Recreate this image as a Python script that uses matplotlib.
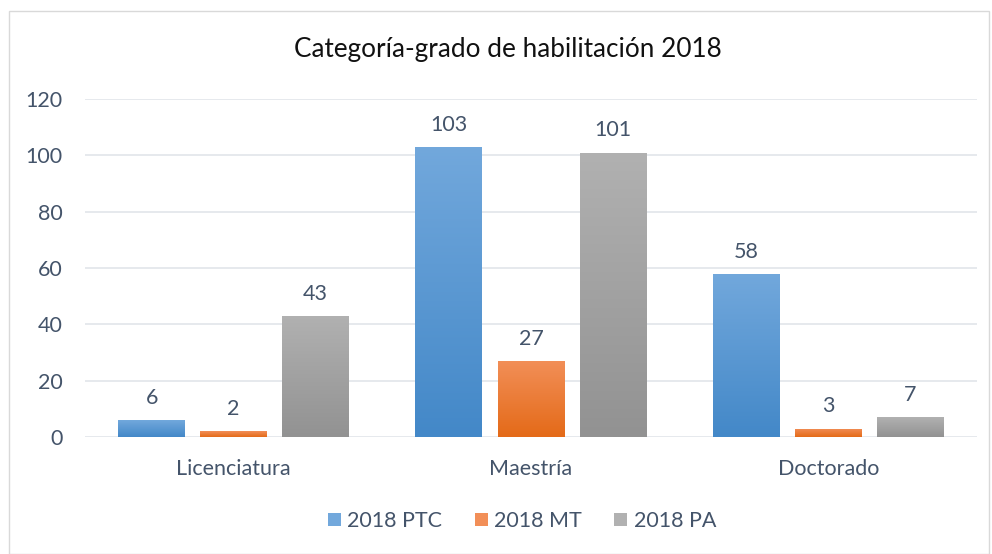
import matplotlib
matplotlib.use("Agg")
import matplotlib.pyplot as plt
import numpy as np
from matplotlib.colors import LinearSegmentedColormap
from matplotlib.patches import Rectangle

categories = ["Licenciatura", "Maestría", "Doctorado"]
series_names = ["2018 PTC", "2018 MT", "2018 PA"]
ptc = [6, 103, 58]
mt = [2, 27, 3]
pa = [43, 101, 7]
series = [ptc, mt, pa]
title = "Categoría-grado de habilitación 2018"
yticks = [0, 20, 40, 60, 80, 100, 120]

grad = [("#72A8DC", "#4388C8"), ("#F28F58", "#E46A18"), ("#B1B1B1", "#929292")]
text_col = "#44546A"

plt.rcParams['font.family'] = ['Lato', 'DejaVu Sans']

fig = plt.figure(figsize=(9.92, 5.54), dpi=100)
ax = fig.add_axes([85/992, 1-437/554, 892/992, 338/554])

# outer border
fig.patches.append(Rectangle((9/992, 0), 980/992, 1-11/554, transform=fig.transFigure,
                             fill=False, edgecolor="#D9D9D9", linewidth=1.0))

x = np.arange(len(categories))
width = 0.225
step = 0.276
fs = 15.5
for i, (vals, (ctop, cbot)) in enumerate(zip(series, grad)):
    cmap = LinearSegmentedColormap.from_list("g%d" % i, [cbot, ctop])
    offs = (i - 1) * step
    bars = ax.bar(x + offs, vals, width, color=ctop, label=series_names[i], zorder=2)
    for b, v in zip(bars, vals):
        bx, by = b.get_x(), b.get_y()
        bw, bh = b.get_width(), b.get_height()
        img = ax.imshow(np.linspace(0, 1, 256).reshape(-1, 1), cmap=cmap, origin="lower",
                        extent=[bx, bx + bw, by, by + bh], aspect="auto", zorder=3)
        img.set_clip_path(b)
        ax.text(bx + bw / 2, v + 4.3, str(v), ha="center", va="bottom",
                fontsize=fs, color=text_col, zorder=4)

ax.set_xlim(-0.5, 2.5)
ax.set_ylim(0, 120)
ax.set_yticks(yticks)
ax.set_xticks(x)
ax.set_xticklabels(categories)
ax.tick_params(axis="both", length=0, labelsize=fs, labelcolor=text_col)
ax.tick_params(axis="y", pad=16)
ax.tick_params(axis="x", pad=16)
for lab in ax.get_yticklabels():
    lab.set_horizontalalignment("right")
ax.grid(axis="y", color="#E1E5EA", linewidth=1.2, zorder=0)
ax.set_axisbelow(True)
for s in ax.spines.values():
    s.set_visible(False)

fig.text(508/992, 1-50/554, title, ha="center", va="center", fontsize=18.8, color="#111111")

handles = [Rectangle((0, 0), 1, 1, facecolor=c[0]) for c in grad]
leg = fig.legend(handles, series_names, loc="center", bbox_to_anchor=(522/992, 1-521/554),
                 ncol=3, frameon=False, fontsize=fs, handlelength=0.6, handleheight=0.6,
                 handletextpad=0.3, columnspacing=1.5, labelcolor=text_col)

fig.savefig("out.png", dpi=100)
